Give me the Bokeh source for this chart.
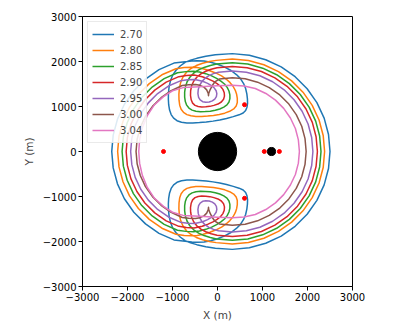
from bokeh.plotting import figure
from bokeh.models import FixedTicker, Range1d
from bokeh.embed import file_html
from bokeh.resources import INLINE

levels = ["2.70", "2.80", "2.85", "2.90", "2.95", "3.00", "3.04"]
colors = ["#1f77b4", "#ff7f0e", "#2ca02c", "#d62728", "#9467bd", "#8c564b", "#e377c2"]

# upper halves (y >= 0), traced from the right x-axis crossing to the left one
x_270 = [2500, 2467, 2370, 2209, 1992, 1725, 1415, 1072, 708, 330, -48,
         -260, -460, -600, -720, -830, -925, -1000, -1045, -1075, -1090, -1092, -1085, -1065, -1030, -975, -900,
         -800, -680, -550, -400, -250, -100, 50, 200, 350, 480, 570, 625, 655, 668, 665, 652, 625, 580, 510,
         420, 300, 150, 0, -150, -300, -450, -570,
         -968, -1300, -1600, -1859, -2069, -2223, -2318, -2350]
y_270 = [0, 378, 742, 1085, 1395, 1662, 1879, 2040, 2140, 2175, 2150,
         2115, 2070, 2030, 1980, 1900, 1800, 1690, 1570, 1440, 1300, 1160, 1040, 920, 820, 740, 685,
         650, 635, 635, 643, 655, 675, 700, 735, 775, 815, 855, 910, 985, 1070, 1170, 1280, 1400, 1510, 1620,
         1710, 1800, 1880, 1940, 1985, 2010, 2015, 2010,
         1965, 1819, 1609, 1350, 1050, 718, 365, 0]

x_280 = [2380, 2349, 2257, 2105, 1900, 1648, 1355, 1031, 687, 330, -30,
         -180, -330, -470, -590, -690, -770, -820, -848, -858, -855, -840, -808, -755, -680, -590, -480,
         -350, -220, -90, 40, 160, 270, 360, 415, 440, 440, 425, 395, 345, 275, 190, 90, -30, -170,
         -320, -450, -560, -740,
         -923, -1235, -1516, -1758, -1955, -2100, -2189, -2219]
y_280 = [0, 357, 701, 1025, 1318, 1570, 1775, 1927, 2022, 2055, 2025,
         2000, 1962, 1910, 1845, 1760, 1650, 1530, 1400, 1270, 1140, 1030, 940, 870, 820, 793, 780,
         780, 787, 800, 822, 852, 893, 945, 1010, 1090, 1180, 1270, 1360, 1450, 1535, 1610, 1680, 1740, 1795,
         1840, 1865, 1870, 1865,
         1840, 1705, 1508, 1266, 985, 673, 342, 0]

x_285 = [2300, 2270, 2182, 2036, 1839, 1597, 1315, 1004, 673, 330, -20,
         -160, -300, -420, -530, -615, -675, -712, -730, -730, -715, -685, -635, -565, -480, -380, -270,
         -160, -50, 50, 140, 210, 255, 275, 275, 255, 215, 155, 75, -20, -130, -260, -400,
         -535, -700,
         -890, -1185, -1452, -1683, -1869, -2007, -2092, -2120]
y_285 = [0, 343, 674, 985, 1267, 1509, 1706, 1852, 1943, 1972, 1943,
         1912, 1868, 1813, 1740, 1650, 1550, 1440, 1320, 1210, 1110, 1030, 965, 920, 895, 885, 887,
         897, 915, 945, 985, 1035, 1100, 1175, 1260, 1345, 1425, 1500, 1565, 1625, 1680, 1730, 1765,
         1785, 1775,
         1750, 1619, 1433, 1202, 935, 640, 325, 0]

x_290 = [2220, 2191, 2107, 1967, 1778, 1545, 1275, 976, 659, 330, -10,
         -140, -260, -370, -460, -530, -575, -597, -600, -585, -553, -500, -430, -350, -260, -170, -80,
         10, 85, 135, 155, 150, 120, 65, -10, -100, -210, -340, -521, -690,
         -859, -1140, -1394, -1614, -1791, -1923, -2003, -2030]
y_290 = [0, 329, 646, 945, 1215, 1448, 1637, 1777, 1862, 1890, 1860,
         1828, 1783, 1725, 1650, 1560, 1460, 1350, 1245, 1150, 1075, 1025, 1000, 990, 992, 1003, 1025,
         1055, 1100, 1160, 1230, 1305, 1380, 1450, 1510, 1565, 1615, 1660, 1700, 1690,
         1663, 1541, 1364, 1144, 890, 609, 309, 0]

x_295 = [2120, 2093, 2013, 1880, 1701, 1481, 1225, 942, 641, 330, 20,
         -90, -190, -280, -350, -400, -428, -435, -420, -385, -330, -260, -185, -115, -60, -25, -15,
         -30, -70, -135, -220, -330, -506, -660,
         -825, -1090, -1330, -1537, -1705, -1829, -1904, -1930]
y_295 = [0, 311, 612, 895, 1151, 1371, 1550, 1683, 1763, 1790, 1762,
         1730, 1685, 1625, 1550, 1465, 1375, 1285, 1205, 1145, 1108, 1095, 1100, 1125, 1165, 1220, 1285,
         1350, 1410, 1465, 1515, 1560, 1600, 1595,
         1570, 1455, 1287, 1080, 840, 575, 292, 0]

x_300 = [1970, 1945, 1872, 1750, 1586, 1384, 1150, 891, 615, 330, 40,
         -60, -120, -165, -195, -200, -205, -240, -300, -390, -488, -640,
         -784, -1030, -1253, -1445, -1601, -1716, -1786, -1810]
y_300 = [0, 285, 561, 820, 1054, 1256, 1420, 1541, 1615, 1640, 1610,
         1545, 1460, 1370, 1290, 1240, 1290, 1370, 1430, 1470, 1490, 1485,
         1466, 1351, 1195, 1003, 780, 534, 271, 0]

x_304 = [1820, 1797, 1731, 1620, 1471, 1288, 1075, 840, 589, 330, 0, -400,
         -763, -1000, -1200, -1400, -1560, -1670, -1730, -1750]
y_304 = [0, 259, 510, 745, 958, 1141, 1290, 1400, 1455, 1470, 1460, 1440,
         1420, 1350, 1220, 1040, 800, 530, 265, 0]

upper_x = [x_270, x_280, x_285, x_290, x_295, x_300, x_304]
upper_y = [y_270, y_280, y_285, y_290, y_295, y_300, y_304]

# bodies and equilibrium points
body_x = [0, 1200]
body_y = [0, 0]
body_r = [425, 90]
eq_x = [-1200, 1040, 1375, 600, 600]
eq_y = [0, 0, 0, 1040, -1040]

ticks = [-3000, -2000, -1000, 0, 1000, 2000, 3000]
tick_text = {t: (str(t).replace("-", "\u2212")) for t in ticks}

p = figure(frame_width=270, frame_height=270,
           x_range=Range1d(-3000, 3000), y_range=Range1d(-3000, 3000),
           output_backend="svg", toolbar_location=None,
           min_border_left=82, min_border_top=16, min_border_right=30, min_border_bottom=10)
p.background_fill_color = "white"
p.border_fill_color = "white"
p.outline_line_color = "black"
p.outline_line_width = 1
p.xgrid.visible = False
p.ygrid.visible = False

for xs, ys, c, lab in zip(upper_x, upper_y, colors, levels):
    fx = list(xs) + list(xs[::-1][1:])
    fy = list(ys) + [-v for v in ys[::-1][1:]]
    p.line(fx, fy, line_color=c, line_width=1.5, legend_label=lab, line_join="round")

p.circle(body_x, body_y, radius=body_r, fill_color="black", line_color="black")
p.scatter(eq_x, eq_y, size=4, fill_color="red", line_color="red")

for ax in (p.xaxis[0], p.yaxis[0]):
    ax.ticker = FixedTicker(ticks=ticks)
    ax.major_label_overrides = tick_text
    ax.minor_tick_line_color = None
    ax.major_tick_out = 4
    ax.major_tick_in = 0
    ax.major_label_text_font = "DejaVu Sans"
    ax.major_label_text_font_size = "10px"
    ax.major_label_text_color = "black"
    ax.axis_label_text_font = "DejaVu Sans"
    ax.axis_label_text_font_size = "10.5px"
    ax.axis_label_text_font_style = "normal"
    ax.axis_line_color = "black"
    ax.major_tick_line_color = "black"
    ax.major_label_standoff = 2
    ax.axis_label_standoff = 5

p.xaxis.axis_label = "X (m)"
p.yaxis.axis_label = "Y (m)"

lg = p.legend[0]
lg.location = "top_left"
lg.margin = 5
lg.padding = 4
lg.spacing = 0
lg.glyph_width = 22
lg.glyph_height = 16
lg.label_height = 16
lg.label_standoff = 6
lg.label_text_font = "DejaVu Sans"
lg.label_text_font_size = "10px"
lg.border_line_color = "#d5d5d5"
lg.background_fill_alpha = 0.85

open("out.html", "w").write(file_html(p, INLINE))
